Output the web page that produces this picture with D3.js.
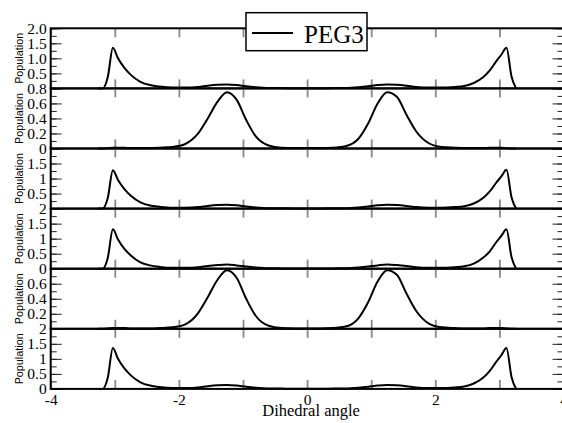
<!DOCTYPE html>
<html lang="en">
<head>
<meta charset="utf-8">
<title>PEG3 dihedral populations</title>
<script src="https://cdn.jsdelivr.net/npm/d3@7"></script>
<style>
  body { margin: 0; background: #fff; }
  .ylab { font-family: "Liberation Sans", Arial, sans-serif; font-size: 10.8px; }
</style>
</head>
<body>
<script>

// Angle grid shared by all curves (radians)
var angles = [-3.26,-3.19,-3.11,-3.03,-2.95,-2.85,-2.75,-2.6,-2.45,-2.3,-2.1,-1.9,-1.7,-1.55,-1.4,-1.25,-1.1,-0.95,-0.8,-0.6,-0.4,-0.2,0,
              0.2,0.4,0.6,0.8,0.95,1.1,1.25,1.4,1.55,1.7,1.9,2.1,2.3,2.45,2.6,2.75,2.85,2.95,3.03,3.11,3.19,3.26];

// Population for each panel, top to bottom
var pop1 = [0,0,0.37,1.35,1.0,0.68,0.45,0.22,0.11,0.06,0.03,0.03,0.05,0.09,0.12,0.13,0.11,0.07,0.04,0.015,0.01,0.005,0.005,
            0.005,0.01,0.015,0.04,0.07,0.11,0.13,0.12,0.09,0.05,0.03,0.03,0.05,0.08,0.18,0.38,0.6,0.9,1.12,1.35,0.39,0];
var pop2 = [0,0,0.005,0.01,0.01,0.01,0.005,0.005,0.005,0.01,0.02,0.06,0.2,0.4,0.62,0.75,0.65,0.38,0.16,0.04,0.01,0.005,0.005,
            0.005,0.01,0.03,0.13,0.33,0.6,0.75,0.69,0.45,0.23,0.07,0.02,0.01,0.005,0.005,0.005,0.01,0.01,0.01,0.005,0,0];
var pop3 = [0,0,0.35,1.28,0.95,0.65,0.43,0.21,0.1,0.06,0.03,0.03,0.05,0.09,0.12,0.13,0.11,0.07,0.04,0.015,0.01,0.005,0.005,
            0.005,0.01,0.015,0.04,0.07,0.11,0.13,0.12,0.09,0.05,0.03,0.03,0.05,0.08,0.17,0.36,0.57,0.86,1.07,1.29,0.37,0];
var pop4 = [0,0,0.36,1.31,0.97,0.66,0.44,0.21,0.11,0.06,0.03,0.03,0.05,0.09,0.12,0.14,0.11,0.07,0.04,0.015,0.01,0.005,0.005,
            0.005,0.01,0.015,0.04,0.07,0.11,0.14,0.12,0.09,0.05,0.03,0.03,0.05,0.08,0.17,0.37,0.58,0.88,1.09,1.31,0.38,0];
var pop5 = [0,0,0.005,0.01,0.01,0.01,0.005,0.005,0.005,0.01,0.02,0.06,0.21,0.42,0.65,0.78,0.68,0.4,0.17,0.04,0.01,0.005,0.005,
            0.005,0.01,0.03,0.14,0.35,0.63,0.78,0.72,0.47,0.24,0.07,0.02,0.01,0.005,0.005,0.005,0.01,0.01,0.01,0.005,0,0];
var pop6 = [0,0,0.37,1.36,1.0,0.68,0.45,0.22,0.11,0.06,0.03,0.03,0.05,0.09,0.12,0.13,0.11,0.07,0.04,0.015,0.01,0.005,0.005,
            0.005,0.01,0.015,0.04,0.07,0.11,0.13,0.12,0.09,0.05,0.03,0.03,0.05,0.08,0.18,0.38,0.6,0.9,1.12,1.36,0.39,0];
var panelData = [pop1, pop2, pop3, pop4, pop5, pop6];

// y axis per panel: max value, major ticks, minor step, and which major ticks carry a label
var panelMax    = [2, 0.8, 2, 2, 0.8, 2];
var panelMajor  = [[0,0.5,1,1.5,2],[0,0.2,0.4,0.6,0.8],[0,0.5,1,1.5,2],[0,0.5,1,1.5,2],[0,0.2,0.4,0.6,0.8],[0,0.5,1,1.5,2]];
var panelMinor  = [0.25, 0.1, 0.25, 0.25, 0.1, 0.25];
var panelLabels = [["0.5","1.0","1.5","2.0"],["0","0.2","0.4","0.6","0.8"],["0.5","1","1.5"],["0","0.5","1","1.5","2"],["0.2","0.4","0.6"],["0","0.5","1","1.5","2"]];

var xTicks = [-4,-3,-2,-1,0,1,2,3,4];
var xLabels = [-4,-2,0,2,4];
var seriesName = "PEG3";

var serif = "'Liberation Serif', 'Times New Roman', Times, serif";

// Layout (plot area edges in pixels)
var plotLeft = 50.7, plotRight = 563.5, plotTop = 28.3, panelH = 60.1;

var svg = d3.select("body").append("svg")
    .attr("width", 562)
    .attr("height", 423);

var xScale = d3.scaleLinear().domain([-4, 4]).range([plotLeft, plotRight]);

function tidy(color, width) {
    return function(s) {
        s.select(".domain").remove();
        s.selectAll("line").attr("stroke", color).attr("stroke-width", width);
        s.attr("font-family", serif).attr("font-size", 15.5);
        s.selectAll("text").style("font-family", serif).style("font-size", "15.5px").attr("fill", "#000");
    };
}

panelData.forEach(function(values, p) {
    var y0 = plotTop + p * panelH, y1 = y0 + panelH;
    var yScale = d3.scaleLinear().domain([0, panelMax[p]]).range([y1, y0]);
    var g = svg.append("g");

    // y ticks, left and right, inward
    var minors = d3.range(0, panelMax[p] + 1e-9, panelMinor[p]);
    [d3.axisLeft, d3.axisRight].forEach(function(ax, k) {
        var xPos = (k == 0 ? plotLeft : plotRight);
        g.append("g")
            .attr("transform", "translate(" + xPos + ",0)")
            .call(ax(yScale).tickValues(minors).tickSize(-6).tickFormat(""))
            .call(tidy("#222", 1));
        g.append("g")
            .attr("transform", "translate(" + xPos + ",0)")
            .call(ax(yScale).tickValues(panelMajor[p]).tickSize(-11).tickPadding(4)
                .tickFormat(function(d) {
                    if (k == 1) return "";
                    var lab = panelLabels[p].find(function(l) { return Math.abs(+l - d) < 1e-9; });
                    return lab || "";
                }))
            .call(tidy("#222", 1));
    });

    // x ticks at top and bottom, pointing inward
    g.append("g")
        .attr("transform", "translate(0," + y1 + ")")
        .call(d3.axisBottom(xScale).tickValues(xTicks).tickSize(-9).tickFormat(""))
        .call(tidy("#888", 1.8));
    g.append("g")
        .attr("transform", "translate(0," + y0 + ")")
        .call(d3.axisTop(xScale).tickValues(xTicks).tickSize(-9).tickFormat(""))
        .call(tidy("#888", 1.8));

    // frame
    g.append("rect")
        .attr("x", plotLeft).attr("y", y0)
        .attr("width", plotRight - plotLeft).attr("height", panelH)
        .attr("fill", "none").attr("stroke", "#000").attr("stroke-width", 2);

    // curve
    var line = d3.line()
        .x(function(d, i) { return xScale(angles[i]); })
        .y(function(d) { return yScale(d); })
        .curve(d3.curveMonotoneX);
    g.append("path")
        .datum(values)
        .attr("d", line)
        .attr("fill", "none")
        .attr("stroke", "#000")
        .attr("stroke-width", 2)
        .attr("stroke-linejoin", "round");

    // y axis title
    g.append("text")
        .attr("class", "ylab")
        .attr("text-anchor", "middle")
        .attr("transform", "translate(22.5," + (y0 + panelH / 2) + ")rotate(-90)")
        .text("Population");
});

var plotBottom = plotTop + 6 * panelH;

// x tick labels (plain hyphen for negatives, as in the original)
svg.append("g")
    .attr("transform", "translate(0," + plotBottom + ")")
    .call(d3.axisBottom(xScale).tickValues(xLabels).tickSize(0).tickPadding(5)
        .tickFormat(function(d) { return String(d); }))
    .call(tidy("#000", 0));

// x axis title
svg.append("text")
    .attr("x", xScale(0) + 4)
    .attr("y", 416)
    .attr("text-anchor", "middle")
    .style("font-family", serif)
    .style("font-size", "16.5px")
    .text("Dihedral angle");

// legend
var legend = svg.append("g");
legend.append("rect")
    .attr("x", 246).attr("y", 12.7)
    .attr("width", 121).attr("height", 38)
    .attr("fill", "#fff").attr("stroke", "#000").attr("stroke-width", 1.5);
legend.append("line")
    .attr("x1", 252).attr("x2", 293)
    .attr("y1", 33).attr("y2", 33)
    .attr("stroke", "#000").attr("stroke-width", 2);
legend.append("text")
    .attr("x", 304).attr("y", 42.5)
    .style("font-family", serif)
    .style("font-size", "25px")
    .text(seriesName);

</script>
</body>
</html>
